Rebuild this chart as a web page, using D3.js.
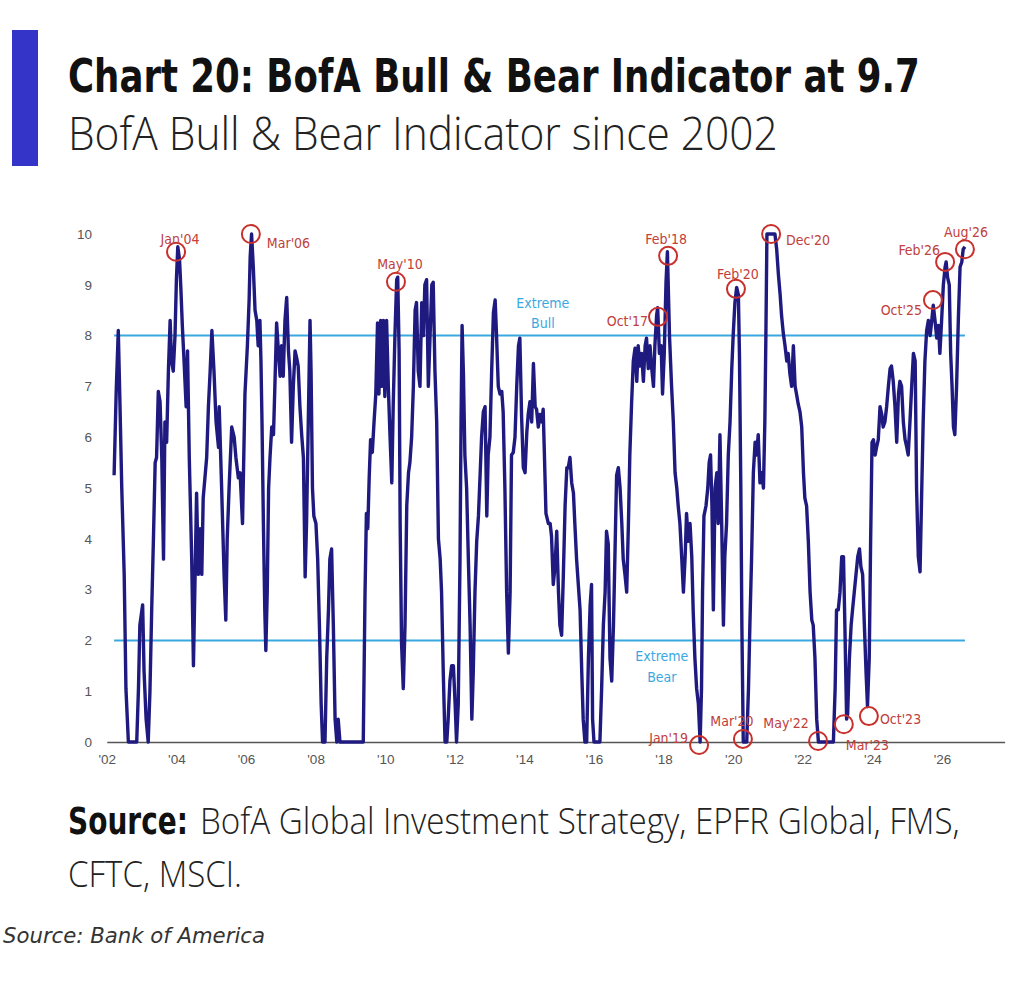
<!DOCTYPE html>
<meta charset="utf-8">
<style>
body { margin: 0; background: #fff; }
.narrow { font-family: 'DejaVu Sans Condensed', 'DejaVu Sans', sans-serif; font-stretch: condensed; }
.light { font-family: 'Open Sans', 'Lato', sans-serif; font-weight: 300; }
.axis text { font-size: 13.5px; fill: #555; }
.axis path { stroke: #555; stroke-width: 1.5px; }
.ind-line { fill: none; stroke: #1f1a80; stroke-width: 3.4px; stroke-linejoin: round; }
.zone-line { stroke: #3aa8e0; stroke-width: 2px; }
.zone-label { font-size: 14px; fill: #3aa8e0; text-anchor: middle; }
.ann circle { fill: none; stroke: #c8302c; stroke-width: 2px; }
.ann text { font-size: 14px; fill: #c0403a; }
</style>
<body>
<div id="chart"></div>

<script src="https://cdn.jsdelivr.net/npm/d3@7"></script>
<script>
// indicator readings, weekly-ish (decimal years)
var dates = [
  2002.21,2002.27,2002.33,2002.38,2002.43,2002.50,2002.55,2002.62,2002.86,2002.91,2002.95,
  2003.03,2003.07,2003.13,2003.19,2003.24,2003.29,2003.34,2003.39,2003.43,2003.48,2003.53,2003.58,2003.63,2003.67,2003.72,2003.77,2003.82,2003.86,2003.91,2003.96,
  2004.00,2004.04,2004.09,2004.13,2004.17,2004.22,2004.28,2004.32,2004.37,2004.44,2004.49,2004.53,2004.58,2004.63,2004.68,2004.73,2004.77,2004.82,2004.87,2004.92,2004.97,
  2005.02,2005.08,2005.14,2005.21,2005.23,2005.30,2005.37,2005.42,2005.46,2005.52,2005.59,2005.66,2005.71,2005.78,2005.83,2005.90,2005.97,
  2006.04,2006.09,2006.12,2006.16,2006.21,2006.26,2006.31,2006.35,2006.40,2006.43,2006.46,2006.50,2006.54,2006.57,2006.61,2006.65,2006.69,2006.74,2006.79,2006.83,2006.88,2006.93,2006.98,
  2007.02,2007.07,2007.12,2007.17,2007.22,2007.26,2007.31,2007.36,2007.41,2007.46,2007.50,2007.55,2007.60,2007.65,2007.70,2007.74,2007.79,2007.84,2007.87,2007.91,2007.95,
  2008.01,2008.06,2008.11,2008.16,2008.20,2008.27,2008.32,2008.37,2008.41,2008.46,2008.51,2008.56,2008.61,2008.65,2008.70,
  2009.37,2009.42,2009.46,2009.50,2009.54,2009.58,2009.63,2009.68,2009.73,2009.78,2009.82,2009.87,2009.90,2009.95,2009.99,
  2010.04,2010.09,2010.14,2010.19,2010.23,2010.28,2010.33,2010.36,2010.40,2010.43,2010.47,2010.52,2010.57,2010.62,2010.67,2010.71,2010.76,2010.81,2010.86,2010.90,2010.95,
  2011.00,2011.05,2011.10,2011.14,2011.19,2011.24,2011.29,2011.34,2011.38,2011.43,2011.48,2011.53,2011.58,2011.62,2011.67,2011.72,2011.77,2011.81,2011.86,2011.91,2011.96,
  2012.01,2012.05,2012.10,2012.15,2012.18,2012.21,2012.25,2012.29,2012.34,2012.39,2012.44,2012.49,2012.53,2012.58,2012.63,2012.68,2012.73,2012.77,2012.82,2012.87,2012.92,2012.96,
  2013.01,2013.06,2013.11,2013.16,2013.20,2013.25,2013.30,2013.35,2013.39,2013.44,2013.49,2013.54,2013.59,2013.63,2013.68,2013.73,2013.78,2013.83,2013.87,2013.92,2013.97,
  2014.02,2014.07,2014.11,2014.16,2014.21,2014.26,2014.31,2014.35,2014.40,2014.45,2014.50,2014.54,2014.57,2014.62,2014.69,2014.74,2014.78,2014.83,2014.88,2014.93,2014.98,
  2015.02,2015.07,2015.12,2015.17,2015.22,2015.26,2015.31,2015.36,2015.41,2015.45,2015.50,2015.55,2015.60,2015.65,2015.69,2015.74,2015.79,2015.84,2015.89,2015.93,2015.96,
  2016.00,2016.17,2016.22,2016.27,2016.32,2016.36,2016.41,2016.46,2016.51,2016.56,2016.60,2016.65,2016.70,2016.75,2016.80,2016.84,2016.89,2016.94,2016.99,
  2017.03,2017.08,2017.13,2017.18,2017.23,2017.27,2017.32,2017.37,2017.42,2017.47,2017.51,2017.56,2017.61,2017.66,2017.71,2017.75,2017.80,2017.83,2017.88,2017.93,2017.97,
  2018.02,2018.07,2018.11,2018.17,2018.23,2018.28,2018.33,2018.38,2018.42,2018.47,2018.52,2018.57,2018.62,2018.66,2018.71,2018.76,2018.81,2018.85,2018.90,2018.95,
  2019.00,2019.05,2019.09,2019.12,2019.16,2019.22,2019.27,2019.31,2019.35,2019.39,2019.43,2019.48,2019.53,2019.57,2019.62,2019.67,2019.72,2019.76,2019.81,2019.86,2019.91,2019.96,
  2020.00,2020.05,2020.10,2020.15,2020.18,2020.22,2020.25,2020.29,2020.39,2020.44,2020.48,2020.53,2020.58,2020.63,2020.67,2020.72,2020.77,2020.82,2020.87,2020.91,2020.94,2020.97,
  2021.20,2021.25,2021.30,2021.35,2021.39,2021.44,2021.49,2021.54,2021.58,2021.63,2021.68,2021.73,2021.78,2021.82,2021.87,2021.92,2021.97,
  2022.02,2022.06,2022.11,2022.16,2022.21,2022.26,2022.30,2022.35,2022.40,2022.45,2022.88,2022.93,2022.97,
  2023.02,2023.07,2023.12,2023.17,2023.21,2023.26,2023.29,2023.34,2023.39,2023.43,2023.48,2023.53,2023.58,2023.63,2023.67,2023.72,2023.77,2023.82,2023.86,2023.91,2023.95,2023.99,
  2024.03,2024.08,2024.12,2024.17,2024.22,2024.27,2024.31,2024.36,2024.41,2024.46,2024.51,2024.55,2024.60,2024.65,2024.70,2024.75,2024.79,2024.84,2024.89,2024.94,2024.99,
  2025.03,2025.08,2025.13,2025.18,2025.23,2025.27,2025.32,2025.37,2025.42,2025.46,2025.51,2025.56,2025.61,2025.66,2025.70,2025.75,2025.80,2025.85,2025.90,2025.94,2025.99,
  2026.04,2026.09,2026.12,2026.16,2026.21,2026.25,2026.29,2026.33,2026.37,2026.42,2026.47,2026.52,2026.57,2026.61,2026.66
];
var values = [
  5.25,6.9,8.1,6.6,5.0,3.3,1.05,0,0,1.05,2.3,
  2.7,1.4,0.45,0,1.0,2.6,4.0,5.5,5.6,6.9,6.7,5.6,3.6,6.3,5.9,7.3,8.3,7.5,7.3,8.0,
  9.1,9.75,9.5,8.9,8.2,7.5,6.6,7.7,5.6,3.6,1.5,3.0,4.9,3.3,4.2,3.3,4.8,5.2,5.6,6.6,7.3,
  8.1,7.3,6.3,5.8,6.6,5.0,3.3,2.4,4.0,5.1,6.2,6.0,5.6,5.2,5.3,4.3,6.85,
  7.8,8.7,9.55,10.0,9.35,8.5,8.3,7.8,8.3,7.5,6.3,4.3,2.6,1.8,2.95,5.0,5.6,6.2,6.05,7.0,8.25,7.7,7.2,
  7.8,7.2,8.3,8.75,7.7,7.3,5.9,7.0,7.7,7.55,7.4,6.6,6.05,5.6,3.25,4.3,6.3,8.3,7.3,5.0,4.45,
  4.3,3.6,2.3,0.75,0,0,1.65,2.6,3.6,3.8,2.3,0.45,0,0.45,0,
  0,2.9,4.5,4.2,5.2,5.95,5.7,6.3,6.85,8.25,6.85,8.3,7.0,8.3,6.8,
  8.3,7.0,6.0,5.1,6.6,8.0,9.1,9.15,7.7,4.3,1.95,1.05,2.3,4.65,5.3,5.5,6.0,7.0,8.5,8.65,7.3,
  7.0,8.65,8.0,9.0,9.1,7.0,8.0,9.0,9.05,7.3,6.3,4.0,3.6,2.95,1.35,0,0,0.45,1.2,1.5,1.5,
  0.75,0,0.75,3.6,6.3,8.2,7.2,5.65,5.0,3.6,2.3,0.45,1.35,2.95,3.95,4.45,5.3,6.0,6.5,6.6,4.45,5.65,
  6.0,7.3,8.45,8.7,8.0,7.0,6.85,6.9,6.5,5.0,2.95,1.75,2.95,5.65,5.7,6.0,7.0,7.8,7.95,6.4,5.4,
  5.3,6.1,6.45,6.7,6.3,7.45,6.6,6.55,6.2,6.45,6.3,6.55,5.8,4.5,4.3,4.3,4.05,3.1,3.45,4.15,2.95,
  2.3,2.1,3.3,4.65,5.4,5.4,5.6,5.1,4.9,4.3,3.6,3.1,2.6,1.35,0.45,0,0,1.65,2.7,3.1,0.45,
  0,0,1.05,2.3,2.95,4.15,3.9,1.65,1.2,2.3,3.6,5.25,5.4,5.0,4.3,3.6,3.3,2.95,4.3,
  5.65,6.65,7.5,7.75,7.1,7.8,7.4,7.65,7.1,7.8,7.95,7.35,7.8,7.35,7.0,7.8,8.4,8.55,7.65,7.8,6.85,
  7.65,9.05,9.65,8.0,7.0,6.3,5.3,5.0,4.65,4.3,3.65,2.95,3.65,4.5,3.95,4.3,3.65,2.6,1.65,1.05,
  0.75,0,1.05,2.95,4.45,4.65,5.0,5.5,5.65,4.65,2.6,5.0,5.3,4.3,6.05,4.3,2.3,3.65,4.3,5.65,6.3,7.35,
  8.0,8.65,8.95,8.8,7.65,5.0,2.3,0,0,1.05,2.3,3.65,5.3,5.9,5.65,6.05,5.1,5.3,5.0,6.3,8.0,10,
  10,9.7,9.2,8.8,8.4,8.05,7.8,7.5,7.65,7.25,7.0,7.8,7.0,6.85,6.65,6.5,6.2,
  5.3,4.8,4.65,3.95,2.95,2.4,2.3,1.65,0.45,0,0,1.05,2.6,
  2.6,2.95,3.65,3.65,2.3,0.45,0.55,1.65,2.3,2.6,2.95,3.3,3.65,3.8,3.45,3.3,2.3,1.35,0.7,1.65,3.95,5.9,
  5.95,5.65,5.8,5.95,6.6,6.45,6.2,6.3,6.6,7.0,7.35,7.4,7.1,6.6,5.9,6.85,7.1,7.0,6.3,5.95,5.8,
  5.65,6.3,7.0,7.65,7.5,5.0,3.65,3.35,5.0,6.3,7.5,8.1,8.3,8.0,8.25,8.6,8.3,7.95,8.2,7.65,8.3,
  9.0,9.35,9.45,9.15,9.0,7.65,7.0,6.2,6.05,7.0,8.3,9.35,9.45,9.7,9.75
];

// axis ticks
var yearTicks = [2002,2004,2006,2008,2010,2012,2014,2016,2018,2020,2022,2024,2026];
var valueTicks = [0,1,2,3,4,5,6,7,8,9,10];

// thresholds
var bullLevel = 8, bearLevel = 2;

// circled readings
var annLabels = ["Jan'04","Mar'06","May'10","Oct'17","Feb'18","Jan'19","Feb'20","Mar'20","Dec'20","May'22","Mar'23","Oct'23","Oct'25","Feb'26","Aug'26"];
var annDates  = [2003.99,2006.14,2010.31,2017.84,2018.13,2019.02,2020.08,2020.28,2021.09,2022.44,2023.18,2023.90,2025.74,2026.09,2026.66];
var annValues = [9.65,10.0,9.06,8.37,9.57,-0.06,8.92,0.06,10.0,0.02,0.35,0.51,8.70,9.45,9.70];
// label placement around each circle: dx, dy, anchor
var annPlace = [
  [4,-13,"middle"],[16,9,"start"],[4,-18,"middle"],[-10,4,"end"],[-2,-17,"middle"],
  [-11,-7,"end"],[2,-15,"middle"],[-11,-18,"middle"],[15,6,"start"],[-32,-18,"middle"],
  [2,21,"start"],[11,3,"start"],[-11,10,"end"],[-5,-12,"end"],[1,-17,"middle"]
];

var W = 1024, H = 997;
var svg = d3.select("#chart").append("svg")
  .attr("width", W).attr("height", H);

// scale a text horizontally to a given width (narrow faces are not installed)
function fitText(sel, x0, y0, width) {
  var k = width / sel.node().getComputedTextLength();
  sel.attr("x", 0).attr("y", 0)
    .attr("transform", "translate(" + x0 + "," + y0 + ") scale(" + k + ",1)");
  return sel;
}

// header
svg.append("rect").attr("x", 12).attr("y", 30).attr("width", 26).attr("height", 136).attr("fill", "#3434c8");
fitText(svg.append("text").attr("class", "narrow")
  .attr("font-size", 46).attr("font-weight", "bold").attr("fill", "#111")
  .text("Chart 20: BofA Bull & Bear Indicator at 9.7"), 68, 92, 852);
fitText(svg.append("text").attr("class", "light")
  .attr("font-size", 46).attr("fill", "#222")
  .text("BofA Bull & Bear Indicator since 2002"), 68, 150, 710);

var x = d3.scaleLinear().domain([2002, 2027.8]).range([106.8, 1004.6]);
var y = d3.scaleLinear().domain([0, 10]).range([742, 234]);

var g = svg.append("g").attr("class", "narrow");

// x axis (domain path is the baseline)
g.append("g").attr("class", "axis")
  .attr("transform", "translate(0," + y(0) + ")")
  .call(d3.axisBottom(x).tickValues(yearTicks).tickSize(0).tickPadding(12)
    .tickFormat(function(d) { return "'" + String(d).slice(2); }));

// y axis labels only
var yAxis = g.append("g").attr("class", "axis")
  .attr("transform", "translate(92,0)")
  .call(d3.axisLeft(y).tickValues(valueTicks).tickSize(0).tickPadding(0));
yAxis.select(".domain").remove();

// extreme bull / bear lines
var x0 = x(dates[0]), x1 = x(dates[dates.length - 1]);
[bullLevel, bearLevel].forEach(function(v) {
  g.append("line").attr("class", "zone-line")
    .attr("x1", x0).attr("x2", x1)
    .attr("y1", y(v)).attr("y2", y(v));
});
var bull = g.append("text").attr("class", "zone-label")
  .attr("x", x(2014.53)).attr("y", y(bullLevel) - 28);
bull.append("tspan").attr("x", x(2014.53)).text("Extreme");
bull.append("tspan").attr("x", x(2014.53)).attr("dy", 20).text("Bull");
var bear = g.append("text").attr("class", "zone-label")
  .attr("x", x(2017.95)).attr("y", y(bearLevel) + 21);
bear.append("tspan").attr("x", x(2017.95)).text("Extreme");
bear.append("tspan").attr("x", x(2017.95)).attr("dy", 21).text("Bear");

// indicator line
var series = dates.map(function(d, i) { return {date: d, value: values[i]}; });
var line = d3.line()
  .x(function(d) { return x(d.date); })
  .y(function(d) { return y(d.value); });
g.append("path").datum(series).attr("class", "ind-line").attr("d", line);

// annotations
var ann = g.selectAll(".ann")
  .data(annLabels.map(function(l, i) {
    return {label: l, date: annDates[i], value: annValues[i], place: annPlace[i]};
  }))
  .enter().append("g").attr("class", "ann")
  .attr("transform", function(d) { return "translate(" + x(d.date) + "," + y(d.value) + ")"; });
ann.append("circle").attr("r", 9);
ann.append("text")
  .attr("x", function(d) { return d.place[0]; })
  .attr("y", function(d) { return d.place[1] + 5; })
  .attr("text-anchor", function(d) { return d.place[2]; })
  .text(function(d) { return d.label; });

// source lines
fitText(svg.append("text").attr("class", "narrow")
  .attr("font-size", 37).attr("font-weight", "bold").attr("fill", "#111")
  .text("Source:"), 68, 834, 120);
fitText(svg.append("text").attr("class", "light")
  .attr("font-size", 37).attr("fill", "#222")
  .text("BofA Global Investment Strategy, EPFR Global, FMS,"), 200, 834, 760);
fitText(svg.append("text").attr("class", "light")
  .attr("font-size", 37).attr("fill", "#222")
  .text("CFTC, MSCI."), 68, 887, 174);
fitText(svg.append("text").attr("class", "narrow")
  .attr("font-size", 21).attr("font-style", "italic").attr("fill", "#333")
  .text("Source: Bank of America"), 3, 943, 262);
</script>
